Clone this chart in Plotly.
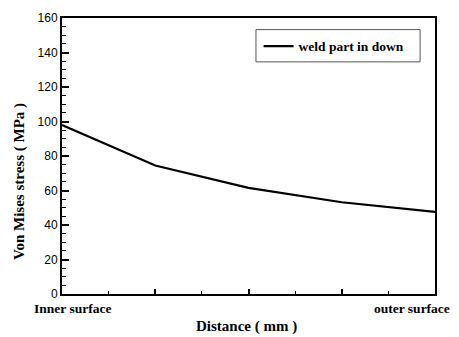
import plotly.graph_objects as go

# Data
distance = [0, 1, 2, 3, 4]
stress = [98.0, 74.5, 61.5, 53.2, 47.6]
series_name = "weld part in down"
x_edge_labels = ["Inner surface", "outer surface"]
y_ticks = [0, 20, 40, 60, 80, 100, 120, 140, 160]

serif = "Liberation Serif"
sans = "Liberation Sans"

fig = go.Figure()
fig.add_trace(go.Scatter(
    x=distance, y=stress, mode="lines", name=series_name,
    line=dict(color="black", width=2.2),
))

fig.update_layout(
    width=459, height=337,
    margin=dict(l=62, r=24, t=11, b=43),
    paper_bgcolor="white", plot_bgcolor="white",
    showlegend=True,
    legend=dict(
        x=0.527, y=0.8975, xanchor="left", yanchor="middle",
        borderwidth=0, bgcolor="rgba(0,0,0,0)",
        font=dict(family=serif, size=13.5, color="black", weight="bold"),
        itemwidth=30,
    ),
    xaxis=dict(
        range=[0, 4], showgrid=False, zeroline=False,
        showline=True, linecolor="black", linewidth=2, mirror=True,
        ticks="inside", tickvals=[1, 2, 3], ticklen=5, tickwidth=1.5,
        tickcolor="black", showticklabels=False,
        minor=dict(ticks="inside", dtick=0.5, tick0=0, ticklen=3, tickwidth=1, tickcolor="black"),
    ),
    yaxis=dict(
        range=[0, 160], showgrid=False, zeroline=False,
        showline=True, linecolor="black", linewidth=2, mirror=True,
        ticks="inside", tickvals=y_ticks, ticklen=7, tickwidth=1.5,
        tickcolor="black",
        tickfont=dict(family=sans, size=12, color="black"),
        minor=dict(ticks="inside", dtick=5, tick0=0, ticklen=4, tickwidth=1, tickcolor="black"),
    ),
)

# Legend frame
fig.add_shape(type="rect", xref="paper", yref="paper",
              x0=0.520, x1=0.960, y0=0.841, y1=0.958,
              line=dict(color="#555", width=1), fillcolor="rgba(0,0,0,0)", layer="above")

# Edge labels on the x axis
fig.add_annotation(x=distance[0], y=0, xref="x", yref="y", text=x_edge_labels[0],
                   showarrow=False, xanchor="left", yanchor="top", xshift=-30, yshift=-5,
                   font=dict(family=serif, size=13.5, color="black", weight="bold"))
fig.add_annotation(x=distance[-1], y=0, xref="x", yref="y", text=x_edge_labels[1],
                   showarrow=False, xanchor="right", yanchor="top", xshift=17, yshift=-5,
                   font=dict(family=serif, size=13.5, color="black", weight="bold"))

# Axis titles
fig.add_annotation(x=0.5, y=0, xref="paper", yref="paper", text="Distance ( mm )",
                   showarrow=False, xanchor="center", yanchor="middle", yshift=-32, xshift=-2,
                   font=dict(family=serif, size=15, color="black", weight="bold"))
fig.add_annotation(x=0, y=0.5, xref="paper", yref="paper", text="Von Mises stress ( MPa )",
                   showarrow=False, textangle=-90, xanchor="center", yanchor="middle",
                   xshift=-43, yshift=-26,
                   font=dict(family=serif, size=15, color="black", weight="bold"))

fig.write_html("out.html", config={"displayModeBar": False},
               post_script="document.body.style.margin='0';")
